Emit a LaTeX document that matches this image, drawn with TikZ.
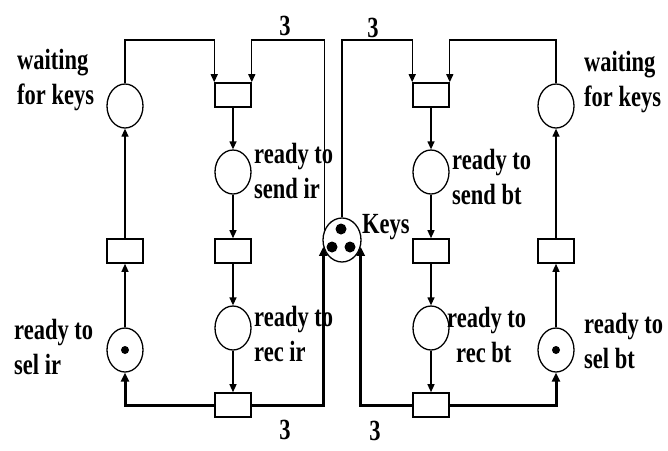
\documentclass[tikz,border=0pt]{standalone}
\usepackage{graphicx}
\usepackage{fontspec}
\setmainfont{Liberation Serif}
\usetikzlibrary{arrows.meta,shapes.geometric}
\newcommand\lab[1]{\scalebox{1}[1.3]{\begin{tabular}{@{}l@{}}#1\end{tabular}}}
\begin{document}
\begin{tikzpicture}[x=1pt,y=-1pt,
  place/.style={draw, line width=1.3pt, ellipse, minimum width=36pt, minimum height=44pt, inner sep=0pt},
  trans/.style={draw, line width=1.6pt, rectangle, minimum width=36pt, minimum height=24pt, inner sep=0pt},
  arc/.style={line width=1.3pt, -{Triangle[length=8pt,width=7pt]}},
  thickarc/.style={line width=3pt, -{Triangle[length=9pt,width=8pt]}},
  tok/.style={circle, fill, inner sep=0pt, minimum size=8pt},
  lbl/.style={font=\fontsize{22.5}{27}\selectfont\bfseries, inner sep=0pt, anchor=west},
  num/.style={font=\fontsize{22.5}{27}\selectfont\bfseries, inner sep=0pt},
]
\useasboundingbox (0,0) rectangle (668,450);
\coordinate (topy) at (0,40);

% left net
\node[place] (wl) at (125,106) {};
\node[trans] (ttl) at (233,95) {};
\node[place] (sendir) at (233,172) {};
\node[trans] (tml) at (233,251) {};
\node[place] (recir) at (233,328) {};
\node[trans] (tbl) at (233,405) {};
\node[trans] (tsl) at (125,251) {};
\node[place] (selir) at (125,350) {};
\node[tok] (tokl) at (selir.center) {};

% right net
\node[place] (wr) at (556,106) {};
\node[trans] (ttr) at (431,95) {};
\node[place] (sendbt) at (431,172) {};
\node[trans] (tmr) at (431,251) {};
\node[place] (recbt) at (431,328) {};
\node[trans] (tbr) at (431,405) {};
\node[trans] (tsr) at (556,251) {};
\node[place] (selbt) at (556,350) {};
\node[tok] (tokr) at (selbt.center) {};

% keys
\node[place, minimum width=38pt] (keys) at (342,240) {};
\node[tok, minimum size=11pt] (k1) at (341,229) {};
\node[tok, minimum size=11pt] (k2) at (332,247) {};
\node[tok, minimum size=11pt] (k3) at (350,247) {};

% left arcs
\draw[arc] (wl.north) |- (ttl.north west |- topy) -- (ttl.north west);
\draw[arc] (keys.150) |- (ttl.north east |- topy) -- (ttl.north east);
\draw[arc] (ttl.south) -- (sendir.north);
\draw[arc] (sendir.south) -- (tml.north);
\draw[arc] (tml.south) -- (recir.north);
\draw[arc] (recir.south) -- (tbl.north);
\draw[thickarc] (tbl.west) -| (selir.south);
\draw[thickarc] (tbl.east) -| (keys.200);
\draw[arc] (selir.north) -- (tsl.south);
\draw[arc] (tsl.north) -- (wl.south);

% right arcs
\draw[arc] (wr.north) |- (ttr.north east |- topy) -- (ttr.north east);
\draw[arc] (keys.north) |- (ttr.north west |- topy) -- (ttr.north west);
\draw[arc] (ttr.south) -- (sendbt.north);
\draw[arc] (sendbt.south) -- (tmr.north);
\draw[arc] (tmr.south) -- (recbt.north);
\draw[arc] (recbt.south) -- (tbr.north);
\draw[thickarc] (tbr.east) -| (selbt.south);
\draw[thickarc] (tbr.west) -| (keys.340);
\draw[arc] (selbt.north) -- (tsr.south);
\draw[arc] (tsr.north) -- (wr.south);

% labels
\node[lbl] (lwl) at (17,80) {\lab{waiting\\for keys}};
\node[lbl] (lsendir) at (254,174) {\lab{ready to\\send ir}};
\node[lbl] (lrecir) at (254,337) {\lab{ready to\\rec ir}};
\node[lbl] (lselir) at (14,350) {\lab{ready to\\sel ir}};
\node[lbl] (lkeys) at (362,226) {\lab{Keys}};
\node[lbl] (lwr) at (584,82) {\lab{waiting\\for keys}};
\node[lbl] (lsendbt) at (452,180) {\lab{ready to\\send bt}};
\node[lbl] (lrecbt) at (447,338) {\lab{ready to\\\hspace*{9pt}rec bt}};
\node[lbl] (lselbt) at (584,344) {\lab{ready to\\sel bt}};

\node[num] (n1) at (285,28) {\lab{3}};
\node[num] (n2) at (373,30) {\lab{3}};
\node[num] (n3) at (285,432) {\lab{3}};
\node[num] (n4) at (375,433) {\lab{3}};
\end{tikzpicture}
\end{document}
